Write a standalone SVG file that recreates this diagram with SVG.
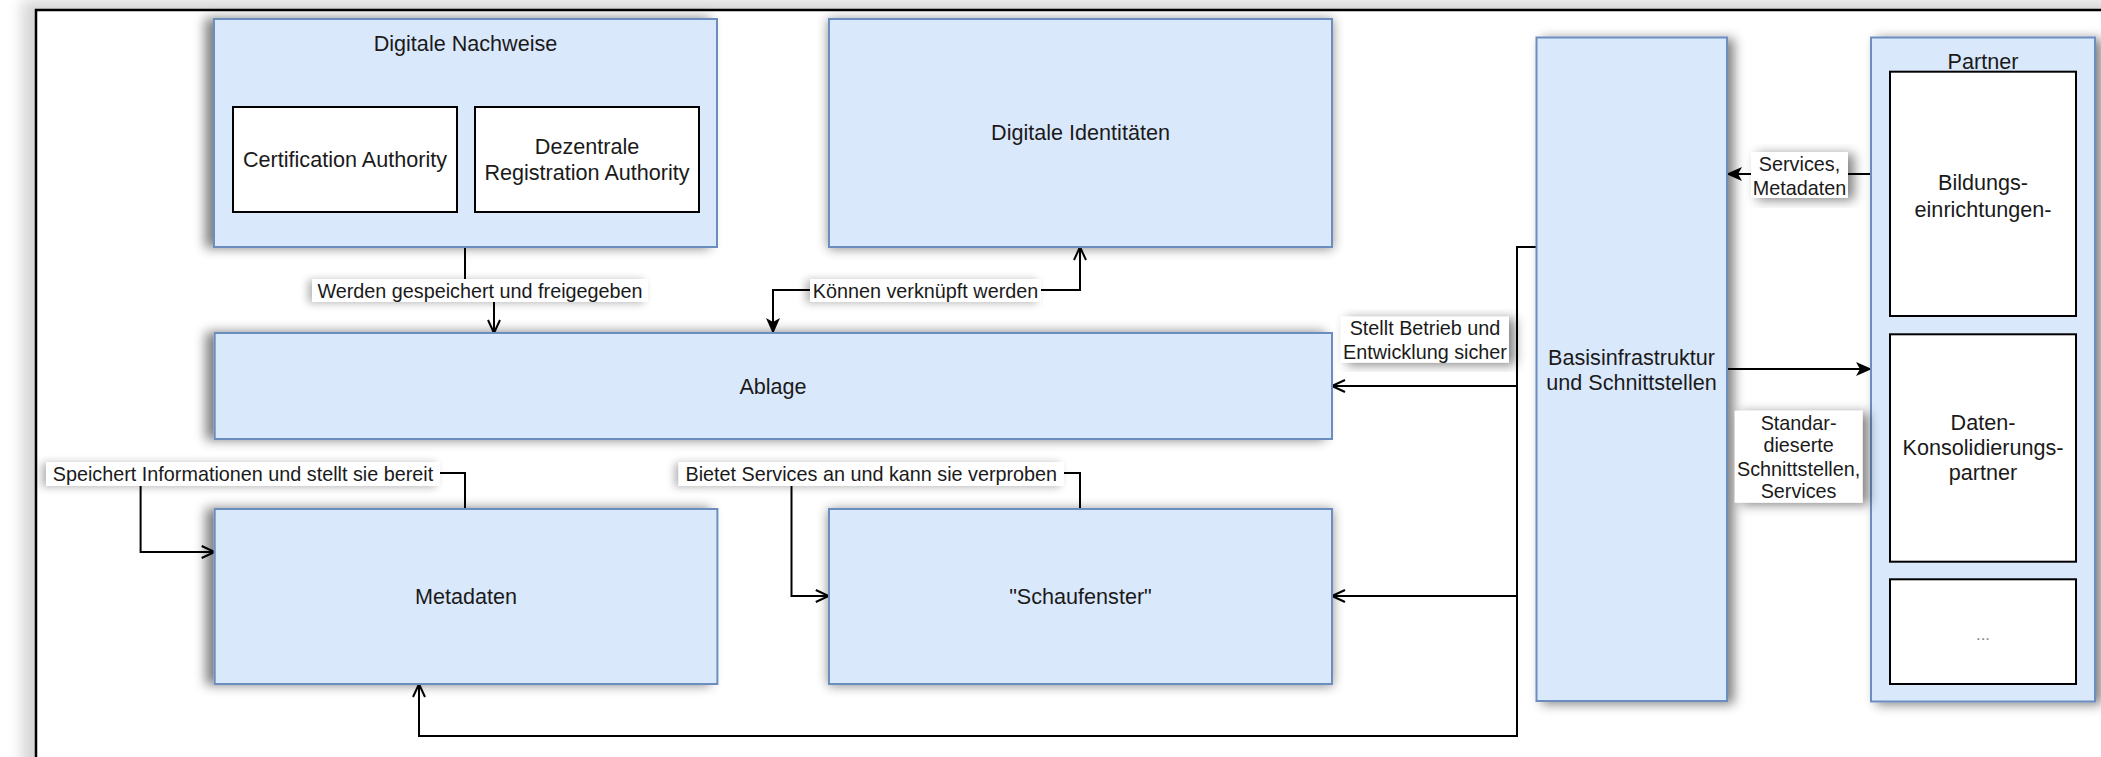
<svg xmlns="http://www.w3.org/2000/svg" width="2101" height="757" viewBox="0 0 2101 757">
<style>
.box{fill:#dae8fc;stroke:#6c8ebf;stroke-width:2}
.inner{fill:#ffffff;stroke:#000000;stroke-width:2}
.t{font-family:"Liberation Sans",Arial,sans-serif;font-size:21.6px;fill:#1a1a1a;text-anchor:middle;dominant-baseline:central}
.lt{font-family:"Liberation Sans",Arial,sans-serif;font-size:19.8px;fill:#1a1a1a;text-anchor:middle;dominant-baseline:central}
.lbg{fill:#ffffff}
.e{fill:none;stroke:#000000;stroke-width:2}
</style>
<defs>
<filter id="shL" x="-20%" y="-20%" width="140%" height="140%">
<feGaussianBlur in="SourceAlpha" stdDeviation="6"/>
<feOffset dx="-8" dy="0" result="b"/>
<feComponentTransfer><feFuncA type="linear" slope="0.5"/></feComponentTransfer>
<feMerge><feMergeNode/><feMergeNode in="SourceGraphic"/></feMerge>
</filter>
<filter id="shC" x="-20%" y="-20%" width="140%" height="140%">
<feGaussianBlur in="SourceAlpha" stdDeviation="6"/>
<feOffset dx="0" dy="1"/>
<feComponentTransfer><feFuncA type="linear" slope="0.45"/></feComponentTransfer>
<feMerge><feMergeNode/><feMergeNode in="SourceGraphic"/></feMerge>
</filter>
<filter id="shR" x="-20%" y="-20%" width="140%" height="140%">
<feGaussianBlur in="SourceAlpha" stdDeviation="6"/>
<feOffset dx="6" dy="2"/>
<feComponentTransfer><feFuncA type="linear" slope="0.5"/></feComponentTransfer>
<feMerge><feMergeNode/><feMergeNode in="SourceGraphic"/></feMerge>
</filter>
<filter id="shT" x="-20%" y="-50%" width="140%" height="200%">
<feGaussianBlur in="SourceAlpha" stdDeviation="4"/>
<feOffset dx="-4" dy="1"/>
<feComponentTransfer><feFuncA type="linear" slope="0.3"/></feComponentTransfer>
<feMerge><feMergeNode/><feMergeNode in="SourceGraphic"/></feMerge>
</filter>
<filter id="frameSh" x="-10%" y="-10%" width="120%" height="120%">
<feGaussianBlur stdDeviation="7"/>
</filter>
<marker id="open" markerUnits="userSpaceOnUse" markerWidth="16" markerHeight="14" refX="14" refY="7" orient="auto-start-reverse" viewBox="0 0 16 14">
<path d="M1,1 L14,7 L1,13" fill="none" stroke="#000" stroke-width="2"/>
</marker>
<marker id="block" markerUnits="userSpaceOnUse" markerWidth="16" markerHeight="14" refX="15" refY="7" orient="auto-start-reverse" viewBox="0 0 16 14">
<path d="M0,0 L16,7 L0,14 L4,7 Z" fill="#000"/>
</marker>
</defs>

<rect x="0" y="0" width="2101" height="757" fill="#ffffff"/>
<g id="frame">
<rect x="22" y="0" width="2200" height="900" fill="#d6d6d6" filter="url(#frameSh)"/>
<rect x="36" y="10" width="2200" height="900" fill="#ffffff" stroke="#000000" stroke-width="2.5"/>
</g>

<g id="connectors">
<path class="e" d="M465,247 V290 H494 V333" marker-end="url(#open)"/>
<path class="e" d="M1080,247 V290 H773 V333" marker-start="url(#open)" marker-end="url(#block)"/>
<path class="e" d="M465,509 V473 H140.6 V552 H214.7" marker-end="url(#open)"/>
<path class="e" d="M1080,509 V473 H791.5 V596 H828.8" marker-end="url(#open)"/>
<path class="e" d="M1536,247 H1517 V386 H1332" marker-end="url(#open)"/>
<path class="e" d="M1517,386 V596 H1332" marker-end="url(#open)"/>
<path class="e" d="M1517,596 V736 H419 V684" marker-end="url(#open)"/>
<path class="e" d="M1876,174 H1727" marker-end="url(#block)"/>
<path class="e" d="M1727,369 H1871" marker-end="url(#block)"/>
</g>

<g id="node-digitale-nachweise">
<rect class="box" x="214" y="19" width="503" height="228" filter="url(#shL)"/>
<text class="t" x="465.5" y="43">Digitale Nachweise</text>
</g>
<g id="node-certification-authority">
<rect class="inner" x="233" y="107" width="224" height="105"/>
<text class="t" x="345" y="159">Certification Authority</text>
</g>
<g id="node-registration-authority">
<rect class="inner" x="475" y="107" width="224" height="105"/>
<text class="t" x="587" y="146.5">Dezentrale</text>
<text class="t" x="587" y="172.5">Registration Authority</text>
</g>
<g id="node-digitale-identitaeten">
<rect class="box" x="829" y="19" width="503" height="228" filter="url(#shC)"/>
<text class="t" x="1080.5" y="132">Digitale Identitäten</text>
</g>
<g id="node-ablage">
<rect class="box" x="214.7" y="333" width="1117.3" height="106" filter="url(#shL)"/>
<text class="t" x="773" y="386">Ablage</text>
</g>
<g id="node-metadaten">
<rect class="box" x="214.7" y="509" width="502.7" height="175" filter="url(#shL)"/>
<text class="t" x="466" y="596">Metadaten</text>
</g>
<g id="node-schaufenster">
<rect class="box" x="829" y="509" width="503" height="175" filter="url(#shC)"/>
<text class="t" x="1080.5" y="596">"Schaufenster"</text>
</g>
<g id="node-basis">
<rect class="box" x="1536.5" y="37.5" width="190.5" height="663.5" filter="url(#shR)"/>
<text class="t" x="1631.5" y="357">Basisinfrastruktur</text>
<text class="t" x="1631.5" y="382">und Schnittstellen</text>
</g>
<g id="node-partner">
<rect class="box" x="1871" y="37.5" width="224" height="664" filter="url(#shR)"/>
<text class="t" x="1983" y="61">Partner</text>
</g>
<g id="node-bildung">
<rect class="inner" x="1890" y="71.7" width="186" height="244.3"/>
<text class="t" x="1983" y="182">Bildungs-</text>
<text class="t" x="1983" y="209">einrichtungen-</text>
</g>
<g id="node-daten">
<rect class="inner" x="1890" y="334.3" width="186" height="227.4"/>
<text class="t" x="1983" y="422.5">Daten-</text>
<text class="t" x="1983" y="447.5">Konsolidierungs-</text>
<text class="t" x="1983" y="472.5">partner</text>
</g>
<g id="node-more">
<rect class="inner" x="1890" y="579.3" width="186" height="104.7"/>
<text class="t" x="1983" y="634" style="font-size:17px;fill:#888">...</text>
</g>

<g id="labels">
<rect class="lbg" x="312" y="279" width="336" height="23" filter="url(#shT)"/>
<text class="lt" x="480" y="290.5">Werden gespeichert und freigegeben</text>
<rect class="lbg" x="810" y="279" width="231" height="23" filter="url(#shT)"/>
<text class="lt" x="925.5" y="290.5">Können verknüpft werden</text>
<rect class="lbg" x="46" y="462" width="394" height="24" filter="url(#shT)"/>
<text class="lt" x="243" y="474">Speichert Informationen und stellt sie bereit</text>
<rect class="lbg" x="678.6" y="462" width="385.4" height="24" filter="url(#shT)"/>
<text class="lt" x="871.3" y="474">Bietet Services an und kann sie verproben</text>
<rect class="lbg" x="1340.7" y="316.7" width="168.3" height="46" filter="url(#shR)"/>
<text class="lt" x="1425" y="327.5">Stellt Betrieb und</text>
<text class="lt" x="1425" y="351.5">Entwicklung sicher</text>
<rect class="lbg" x="1751" y="152" width="97" height="46" filter="url(#shR)"/>
<text class="lt" x="1799.5" y="163.5">Services,</text>
<text class="lt" x="1799.5" y="187.5">Metadaten</text>
<rect class="lbg" x="1734.6" y="410.7" width="128" height="92" filter="url(#shR)"/>
<text class="lt" x="1798.6" y="422.5">Standar-</text>
<text class="lt" x="1798.6" y="445">dieserte</text>
<text class="lt" x="1798.6" y="468.5">Schnittstellen,</text>
<text class="lt" x="1798.6" y="491">Services</text>
</g>
</svg>
